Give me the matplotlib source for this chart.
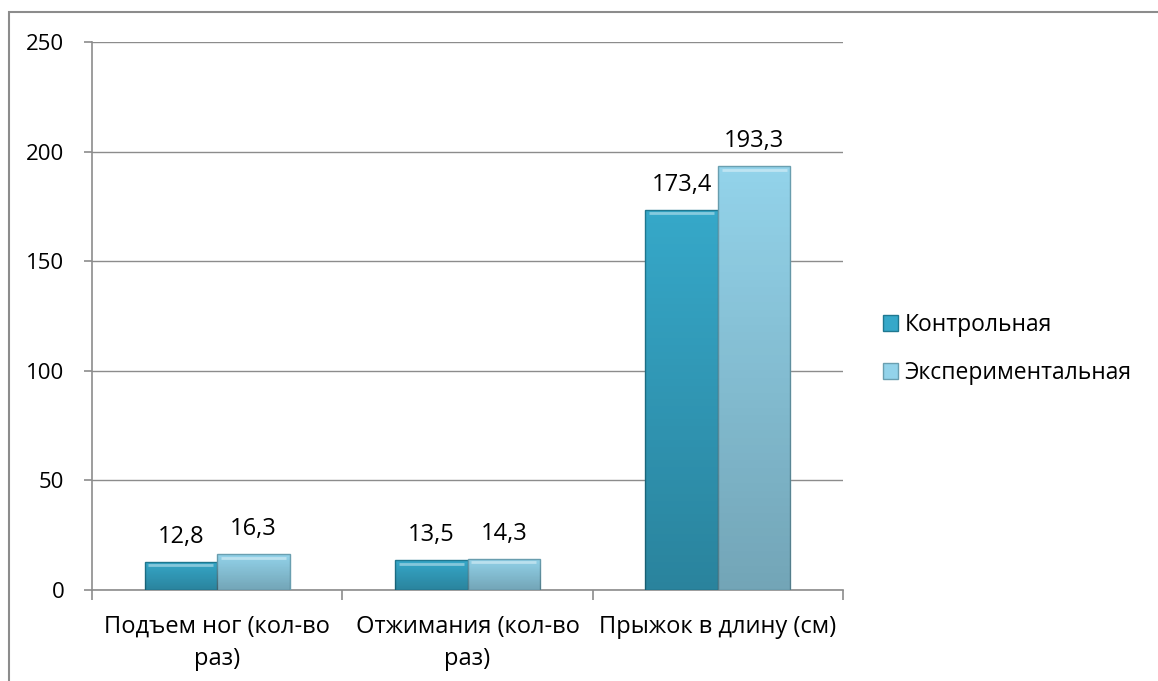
import numpy as np
import matplotlib.pyplot as plt
from matplotlib.patches import Rectangle

categories = ["Подъем ног (кол-во\nраз)", "Отжимания (кол-во\nраз)", "Прыжок в длину (см)"]
control = [12.8, 13.5, 173.4]
experimental = [16.3, 14.3, 193.3]
series_names = ["Контрольная", "Экспериментальная"]
y_ticks = [0, 50, 100, 150, 200, 250]

plt.rcParams['font.family'] = ['Open Sans', 'DejaVu Sans']

fig = plt.figure(figsize=(11.58, 6.81), dpi=100)
ax = fig.add_axes([92 / 1158, 1 - 590 / 681, (843 - 92) / 1158, (590 - 42) / 681])

# outer frame (only top/left visible in the reference)
fig.patches.append(Rectangle((9 / 1158, -0.1), 1.2, 1 - 12 / 681 + 0.1,
                             transform=fig.transFigure, fill=False,
                             edgecolor='#8c8c8c', linewidth=1.5))

x = np.arange(len(categories))
w = 0.29
colors = ['#36a8c9', '#93d3ea']
edges = ['#1f7890', '#6a9fb0']

# darkening toward the bottom, like the excel bevel bars
shade = np.zeros((256, 1, 4))
shade[:, 0, 3] = np.linspace(0.0, 0.22, 256)

for off, vals, col, ec, name in [(-w / 2, control, colors[0], edges[0], series_names[0]),
                                 (w / 2, experimental, colors[1], edges[1], series_names[1])]:
    bars = ax.bar(x + off, vals, width=w, color=col, edgecolor=ec, linewidth=1.0,
                  label=name, zorder=3)
    for b, v in zip(bars, vals):
        x0 = b.get_x()
        im = ax.imshow(shade, extent=[x0, x0 + w, 0, v], aspect='auto',
                       origin='upper', zorder=4, interpolation='bilinear')
        im.set_clip_path(b)
        # light bevel along top
        ax.plot([x0 + 0.015, x0 + w - 0.015], [v - 1.5, v - 1.5], color='white',
                alpha=0.4, lw=2, zorder=5, solid_capstyle='butt')
        ax.text(b.get_x() + w / 2, v + 6, f"{v:.1f}".replace('.', ','),
                ha='center', va='bottom', fontsize=17, zorder=6)

ax.set_xlim(-0.5, 2.5)
ax.set_ylim(0, 250)
ax.set_yticks(y_ticks)
ax.set_xticks(x)
ax.set_xticklabels(categories, fontsize=17, linespacing=1.45)
ax.set_xticks([-0.5, 0.5, 1.5, 2.5], minor=True)
ax.tick_params(axis='x', which='major', length=0, pad=18)
ax.tick_params(axis='x', which='minor', length=7, color='#8c8c8c', width=1.2)
ax.tick_params(axis='y', length=6, color='#8c8c8c', width=1.2, labelsize=16, pad=14)
ax.yaxis.grid(True, color='#8c8c8c', linewidth=1.0, zorder=0)
ax.set_axisbelow(True)
for s in ['top', 'right']:
    ax.spines[s].set_visible(False)
for s in ['left', 'bottom']:
    ax.spines[s].set_color('#8c8c8c')
    ax.spines[s].set_linewidth(1.2)

leg = fig.legend(loc='center left', bbox_to_anchor=(862 / 1158, 1 - 349 / 681),
                 frameon=False, fontsize=16.5, handlelength=0.65, handleheight=0.65,
                 handletextpad=0.3, labelspacing=1.05)

fig.savefig("out.png", dpi=100)
